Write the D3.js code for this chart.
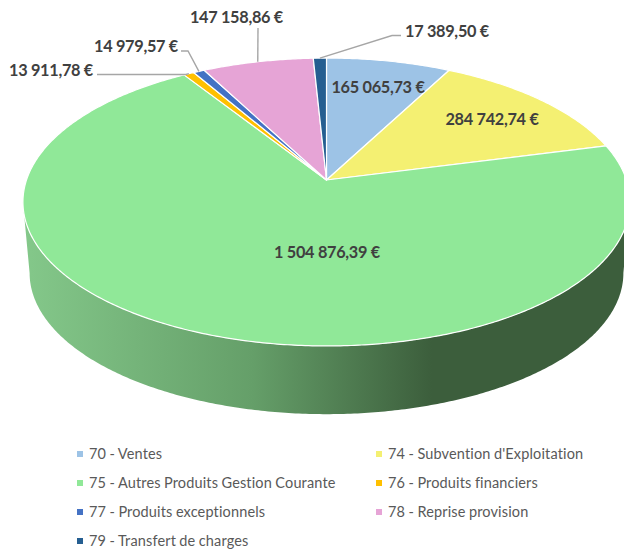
<!DOCTYPE html>
<html>
<head>
<meta charset="utf-8">
<script src="https://cdnjs.cloudflare.com/ajax/libs/d3/7.8.5/d3.min.js"></script>
<style>
  html, body { margin: 0; padding: 0; background: #fff; }
  svg { display: block; }
</style>
</head>
<body>
<svg id="chart" width="624" height="550"></svg>
<script>
// values
var categories = ["70 - Ventes", "74 - Subvention d'Exploitation", "75 - Autres Produits Gestion Courante",
  "76 - Produits financiers", "77 - Produits exceptionnels", "78 - Reprise provision", "79 - Transfert de charges"];
var amounts = [165065.73, 284742.74, 1504876.39, 13911.78, 14979.57, 147158.86, 17389.50];
var colors = ["#9dc3e6", "#f4f072", "#90e898", "#ffc000", "#4472c4", "#e6a4d6", "#255e91"];
var sideStops = [[0, "#84c88a"], [0.38, "#659f69"], [0.68, "#3c5e3c"], [1, "#3c5e3c"]];

var width = 624, height = 550;
var svg = d3.select("#chart");

// text labels: [text x, baseline y, anchor, leader points going from label to slice]
var labelLayout = [
  {x: 378, y: 92.5, anchor: "middle"},
  {x: 492, y: 124.5, anchor: "middle"},
  {x: 327, y: 257.5, anchor: "middle"},
  {x: 93, y: 75.5, anchor: "end", leader: [[97, 74.5], [186, 74.5]]},
  {x: 178, y: 51.5, anchor: "end", leader: [[181, 51], [188, 51]]},
  {x: 283, y: 22.5, anchor: "end", leader: [[258, 28]]},
  {x: 405, y: 36.5, anchor: "start", leader: [[401, 35.5], [392, 35.5]]}
];

// perspective projection of the pie disc: k makes the back of the disc smaller
var k = -0.1528;
var topFace = {cx: 326.5, cy: 180, rx: 300, ry: 140.6};
var bottomFace = {cx: 326.5, cy: 251.5, rx: 293.4, ry: 137.8};

function project(face, angle) {
  var u = Math.sin(angle), v = -Math.cos(angle), w = 1 + k * v;
  return [face.cx + face.rx * u / w, face.cy + face.ry * v / w];
}

function arcPoints(face, a0, a1) {
  var n = Math.max(2, Math.ceil(Math.abs(a1 - a0) / 0.01));
  return d3.range(n + 1).map(function (i) { return project(face, a0 + (a1 - a0) * i / n); });
}

var line = d3.line();
var slices = d3.pie().sort(null).value(function (d) { return d; })(amounts);

// gradient for the rim
var grad = svg.append("defs").append("linearGradient")
  .attr("id", "rim")
  .attr("gradientUnits", "userSpaceOnUse")
  .attr("x1", 24).attr("x2", 624).attr("y1", 0).attr("y2", 0);
grad.selectAll("stop").data(sideStops).join("stop")
  .attr("offset", function (d) { return d[0]; })
  .attr("stop-color", function (d) { return d[1]; });

// the rim only shows between the two widest points of the disc
var edge = Math.acos(k);
var visibleFrom = edge, visibleTo = 2 * Math.PI - edge;

slices.forEach(function (s) {
  var a0 = Math.max(s.startAngle, visibleFrom), a1 = Math.min(s.endAngle, visibleTo);
  if (a1 <= a0) return;
  var pts = arcPoints(topFace, a0, a1).concat(arcPoints(bottomFace, a1, a0));
  svg.append("path")
    .attr("d", line(pts) + "Z")
    .attr("fill", "url(#rim)");
});

// top of the pie
svg.append("g").selectAll("path").data(slices).join("path")
  .attr("d", function (s) {
    var pts = [[topFace.cx, topFace.cy]].concat(arcPoints(topFace, s.startAngle, s.endAngle));
    return line(pts) + "Z";
  })
  .attr("fill", function (s, i) { return colors[i]; })
  .attr("stroke", "#fff")
  .attr("stroke-width", 1.2)
  .attr("stroke-linejoin", "round");

// leader lines
svg.append("g").selectAll("path").data(slices).join("path")
  .filter(function (s, i) { return labelLayout[i].leader; })
  .attr("d", function (s) {
    var pts = labelLayout[s.index].leader.concat([project(topFace, (s.startAngle + s.endAngle) / 2)]);
    return line(pts);
  })
  .attr("fill", "none")
  .attr("stroke", "#a6a6a6")
  .attr("stroke-width", 1.4);

// french number format: 1 504 876,39 €
var fr = d3.formatLocale({decimal: ",", thousands: "\u00a0", grouping: [3], currency: ["", "\u00a0€"]});
var money = fr.format("$,.2f");

svg.append("g").selectAll("text").data(amounts).join("text")
  .attr("x", function (d, i) { return labelLayout[i].x; })
  .attr("y", function (d, i) { return labelLayout[i].y; })
  .attr("text-anchor", function (d, i) { return labelLayout[i].anchor; })
  .style("font-family", "Lato, sans-serif")
  .style("font-weight", "bold")
  .style("font-size", "16.3px")
  .style("letter-spacing", "-0.3px")
  .style("fill", "#404040")
  .text(function (d) { return money(d); });

// legend, two columns
var legendX = d3.scalePoint().domain([0, 1]).range([77, 376]);
var legendY = d3.scalePoint().domain([0, 1, 2, 3]).range([454, 541]);

var legend = svg.append("g").selectAll("g").data(categories).join("g")
  .attr("transform", function (d, i) {
    return "translate(" + legendX(i % 2) + "," + legendY(Math.floor(i / 2)) + ")";
  });
legend.append("rect")
  .attr("x", 0).attr("y", -3).attr("width", 6).attr("height", 6)
  .attr("fill", function (d, i) { return colors[i]; });
legend.append("text")
  .attr("x", 12).attr("y", 5)
  .style("font-family", "Lato, sans-serif")
  .style("font-size", "14.5px")
  .style("letter-spacing", "0.15px")
  .style("word-spacing", "-0.5px")
  .style("fill", "#595959")
  .text(function (d) { return d; });
</script>
</body>
</html>
